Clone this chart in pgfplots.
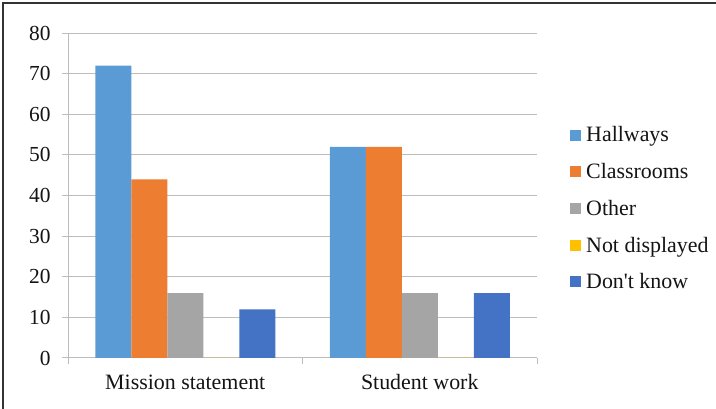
\documentclass[border=0pt]{standalone}
\usepackage{pgfplots}
\pgfplotsset{compat=1.18}
\usepackage{fontspec}
\setmainfont{Liberation Serif}[Ligatures=TeXOff]

\definecolor{hallways}{HTML}{5B9BD5}
\definecolor{classrooms}{HTML}{ED7D31}
\definecolor{other}{HTML}{A5A5A5}
\definecolor{notdisp}{HTML}{FFC000}
\definecolor{dontknow}{HTML}{4472C4}
\definecolor{gridgray}{HTML}{BFBBB8}
\definecolor{txt}{HTML}{141414}

\begin{document}
\begin{tikzpicture}
\useasboundingbox (0,0) rectangle (716bp,409bp);
% page frame (left and top edges)
\draw[line width=1.2bp, color=black!80] (3bp,0) -- (3bp,406bp) -- (716bp,406bp);
\begin{axis}[
  at={(68bp,51bp)}, anchor=south west,
  scale only axis,
  width=469bp, height=325bp,
  ybar=0pt, bar width=36bp,
  legend image code/.code={\fill[#1] (0bp,-5.5bp) rectangle (11bp,5.5bp);},
  xmin=-0.5, xmax=1.5,
  ymin=0, ymax=80,
  % group separators as ticks, group names as extra ticks
  xtick={-0.5,0.5,1.5},
  xticklabels={,,},
  extra x ticks={0,1},
  extra x tick labels={Mission statement, Student work},
  extra x tick style={major tick length=0pt,
    xticklabel style={font=\fontsize{22}{26}\selectfont, text=txt, yshift=-13bp}},
  ytick={0,10,...,80},
  tick align=outside,
  major tick length=6bp,
  axis x line*=bottom, axis y line*=left,
  axis line style={gridgray, line width=1bp},
  every tick/.style={gridgray, line width=1bp},
  ymajorgrids,
  major grid style={gridgray, line width=1bp},
  /pgf/number format/assume math mode=true,
  yticklabel style={font=\fontsize{21.5}{25}\selectfont, text=txt, xshift=-8bp},
  legend style={at={(1.064,0.46)}, anchor=west, draw=none, fill=none,
    font=\fontsize{22}{26}\selectfont, text=txt, row sep=16bp,
    legend cell align=left,
    /tikz/every odd column/.append style={column sep=3bp}},
]
\addplot[fill=hallways, draw=none] coordinates {(0,72) (1,52)};
\addplot[fill=classrooms, draw=none] coordinates {(0,44) (1,52)};
\addplot[fill=other, draw=none] coordinates {(0,16) (1,16)};
\addplot[fill=notdisp, draw=none] coordinates {(0,0) (1,0)};
\addplot[fill=dontknow, draw=none] coordinates {(0,12) (1,16)};
\legend{Hallways, Classrooms, Other, Not displayed, Don't know}
\end{axis}
\end{tikzpicture}
\end{document}
